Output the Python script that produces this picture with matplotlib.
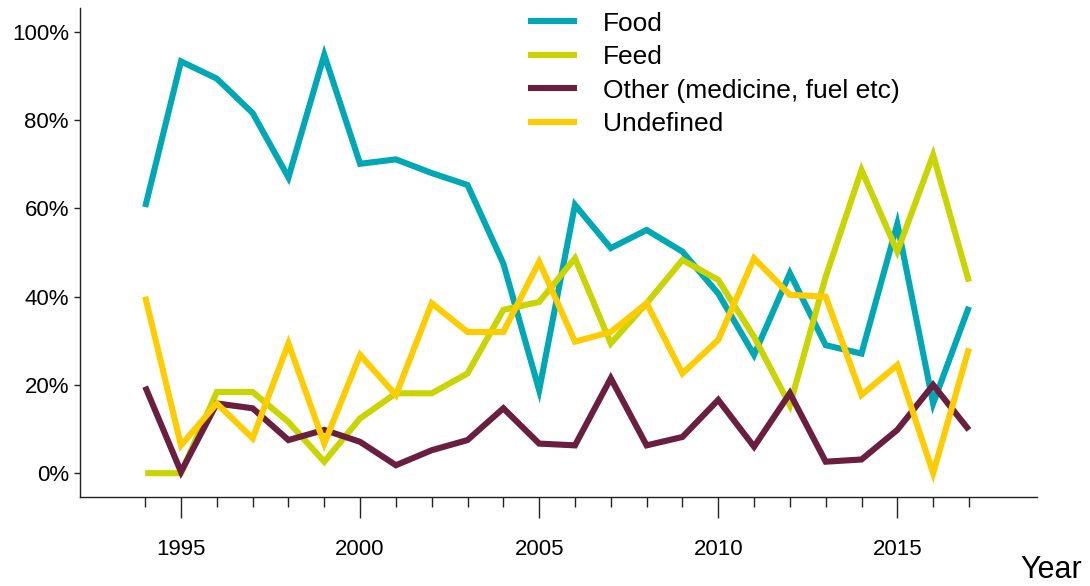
import matplotlib
matplotlib.use("Agg")
import matplotlib.pyplot as plt
from matplotlib.ticker import MultipleLocator, FuncFormatter

plt.rcParams['font.family'] = ['Liberation Sans', 'DejaVu Sans']

years = list(range(1994, 2018))
food = [60.3, 93.3, 89.4, 81.6, 67.0, 94.8, 70.1, 71.1, 68.0, 65.3, 47.5, 18.8,
        60.8, 51.0, 55.1, 50.2, 40.7, 26.8, 45.3, 29.0, 27.1, 56.5, 15.8, 37.7]
feed = [0.0, 0.0, 18.4, 18.4, 11.6, 2.6, 12.4, 18.1, 18.1, 22.6, 37.0, 38.8,
        48.7, 29.4, 38.5, 48.3, 43.8, 30.9, 15.4, 44.5, 68.7, 50.2, 72.1, 43.4]
other = [19.6, 0.3, 15.8, 14.7, 7.5, 9.8, 7.1, 1.8, 5.2, 7.5, 14.7, 6.7,
         6.3, 21.5, 6.3, 8.2, 16.6, 6.0, 18.1, 2.6, 3.1, 9.8, 20.0, 9.8]
undefined = [40.0, 6.3, 15.8, 7.9, 29.4, 6.7, 26.8, 17.7, 38.5, 32.0, 32.0, 47.9,
             29.8, 32.0, 38.5, 22.6, 30.2, 48.7, 40.4, 40.0, 17.7, 24.5, 0.0, 28.3]

series_labels = ["Food", "Feed", "Other (medicine, fuel etc)", "Undefined"]
series_colors = ["#00A8B5", "#C9D400", "#6A1E40", "#FFCC00"]

fig = plt.figure(figsize=(10.9, 5.86), dpi=100)
ax = fig.add_axes([80/1090, 1 - 497/586, (1037-80)/1090, (497-8)/586])

for vals, lab, col in zip([food, feed, other, undefined], series_labels, series_colors):
    ax.plot(years, vals, color=col, lw=4.4, label=lab,
            solid_joinstyle='miter', solid_capstyle='butt')

ax.set_xlim(1992.18, 2018.9)
ax.set_ylim(-5.4, 105.4)
ax.xaxis.set_major_locator(MultipleLocator(5))
ax.set_xticks(years, minor=True)
ax.yaxis.set_major_locator(MultipleLocator(20))
ax.yaxis.set_major_formatter(FuncFormatter(lambda v, p: f"{int(round(v))}%"))

for s in ['top', 'right']:
    ax.spines[s].set_visible(False)
for s in ['left', 'bottom']:
    ax.spines[s].set_linewidth(1.0)
    ax.spines[s].set_color('#222222')

ax.tick_params(axis='x', which='major', length=15, width=1, pad=15, labelsize=16, color='#222222')
ax.tick_params(axis='x', which='minor', length=7, width=1, color='#222222')
ax.tick_params(axis='y', which='major', length=4, width=1, pad=4, labelsize=16, color='#222222')

leg = ax.legend(loc='upper left', bbox_to_anchor=(512/1090, 1.007), bbox_transform=fig.transFigure,
                frameon=False, fontsize=19, handlelength=1.86, handletextpad=1.0,
                labelspacing=0.36, borderaxespad=0.2)

fig.text(1082/1090, 1 - 570/586, "Year", ha='right', va='center', fontsize=22)

fig.savefig("out.png", dpi=100)
